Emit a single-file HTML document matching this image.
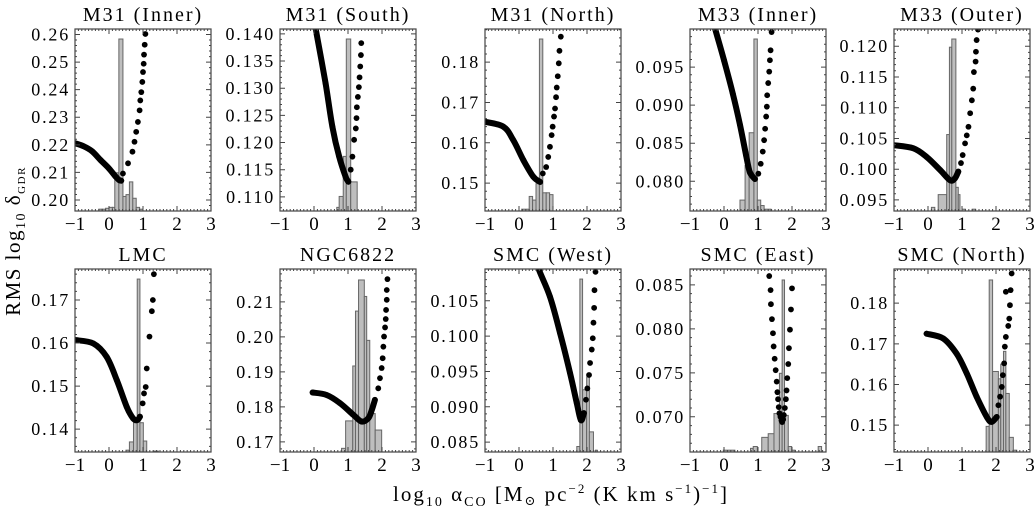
<!DOCTYPE html>
<html><head><meta charset="utf-8">
<style>
html,body{margin:0;padding:0;background:#fff;}
svg{display:block;font-family:"Liberation Serif","DejaVu Serif",serif;}
</style></head>
<body>
<svg id="fig" width="1036" height="506" viewBox="0 0 1036 506" xmlns="http://www.w3.org/2000/svg">
<text transform="translate(20,241) rotate(-90)" text-anchor="middle" font-size="21" letter-spacing="1.5">RMS log<tspan font-size="14" dy="5">10</tspan><tspan dy="-5"> δ</tspan><tspan font-size="11" dy="5">GDR</tspan></text>
<text x="561" y="501" text-anchor="middle" font-size="21" letter-spacing="2">log<tspan font-size="14" dy="5">10</tspan><tspan dy="-5"> α</tspan><tspan font-size="14" dy="5">CO</tspan><tspan dy="-5"> [M</tspan><tspan font-size="13" dy="4">⊙</tspan><tspan dy="-4"> pc</tspan><tspan font-size="13" dy="-8">−2</tspan><tspan dy="8"> (K km s</tspan><tspan font-size="13" dy="-8">−1</tspan><tspan dy="8">)</tspan><tspan font-size="13" dy="-8">−1</tspan><tspan dy="8">]</tspan></text>
</svg>
<script>
// ---- data ----
const panelTitles = ["M31 (Inner)","M31 (South)","M31 (North)","M33 (Inner)","M33 (Outer)","LMC","NGC6822","SMC (West)","SMC (East)","SMC (North)"];
const xTicks = [-1,0,1,2,3];
const yMin = [0.196,0.1074,0.1431,0.0761,0.0932,0.1347,0.1671,0.0836,0.0660,0.1434];
const yMax = [0.262,0.1409,0.1882,0.1000,0.1228,0.1772,0.2194,0.1095,0.0868,0.1884];
const yTickStart = [0.20,0.110,0.15,0.080,0.095,0.14,0.17,0.085,0.070,0.15];
const yTickStep = [0.01,0.005,0.01,0.005,0.005,0.01,0.01,0.005,0.005,0.01];
const yTickCount = [7,7,4,4,6,4,5,5,4,4];
const curveX = [
 [-1,-0.75,-0.5,-0.25,0,0.2,0.3,0.36,0.41,0.56,0.69,0.75,0.80,0.85,0.90,0.92,0.95,0.98,1.00,1.02,1.03,1.05,1.07],
 [-0.05,0.05,0.34,0.54,0.74,0.93,1.01,1.08,1.13,1.18,1.23,1.25,1.26,1.29,1.32,1.34,1.36,1.38,1.39],
 [-1,-0.46,-0.17,0.13,0.42,0.62,0.70,0.80,0.86,0.91,0.96,0.99,1.03,1.06,1.09,1.11,1.14,1.17,1.19,1.23],
 [-0.35,-0.26,0.0,0.26,0.47,0.65,0.76,0.91,1.01,1.08,1.14,1.18,1.21,1.24,1.26,1.27,1.30,1.33,1.35,1.37,1.40],
 [-1,-0.43,-0.04,0.35,0.65,0.79,0.89,0.97,1.02,1.09,1.14,1.19,1.24,1.29,1.33,1.35,1.40,1.41,1.43,1.47],
 [-1,-0.46,-0.07,0.23,0.52,0.71,0.83,0.91,0.99,1.03,1.08,1.11,1.19,1.26,1.29,1.32],
 [-0.04,0.37,0.76,1.16,1.40,1.60,1.70,1.79,1.89,1.94,1.99,2.02,2.04,2.06,2.09,2.11,2.12,2.14,2.14,2.16],
 [0.45,0.57,0.91,1.21,1.50,1.70,1.82,1.91,1.97,2.01,2.06,2.09,2.14,2.17,2.19,2.21,2.22,2.25],
 [1.33,1.37,1.38,1.41,1.44,1.46,1.49,1.52,1.55,1.57,1.59,1.61,1.63,1.66,1.69,1.71,1.74,1.76,1.79,1.82,1.84,1.86,1.89,1.91,1.94,1.97,2.00],
 [-0.04,0.45,0.84,1.14,1.43,1.73,1.87,2.02,2.07,2.12,2.17,2.20,2.24,2.26,2.29,2.36,2.39,2.41,2.29,2.43,2.46]
];
const curveY = [
 [0.2206,0.2195,0.2177,0.2145,0.2114,0.2084,0.2072,0.2070,0.2096,0.2133,0.2175,0.2211,0.2247,0.2283,0.2325,0.2361,0.2391,0.2428,0.2464,0.2494,0.2527,0.2563,0.2602],
 [0.1445,0.1409,0.1309,0.1229,0.1174,0.1137,0.1128,0.1150,0.1174,0.1205,0.1226,0.1245,0.1265,0.1284,0.1302,0.1320,0.1340,0.1361,0.1383],
 [0.1652,0.1640,0.1607,0.1557,0.1516,0.1503,0.1524,0.1540,0.1565,0.1590,0.1619,0.1640,0.1665,0.1685,0.1713,0.1737,0.1765,0.1797,0.1828,0.1863],
 [0.1015,0.1000,0.0959,0.0915,0.0874,0.0834,0.0812,0.0803,0.0810,0.0823,0.0839,0.0854,0.0869,0.0885,0.0898,0.0913,0.0929,0.0944,0.0959,0.0972,0.0996],
 [0.1039,0.1034,0.1020,0.0999,0.0982,0.0985,0.0996,0.1010,0.1023,0.1042,0.1055,0.1069,0.1091,0.1112,0.1131,0.1158,0.1175,0.1191,0.1210,0.1227],
 [0.1607,0.1599,0.1568,0.1514,0.1452,0.1425,0.1421,0.1429,0.1460,0.1483,0.1498,0.1541,0.1615,0.1674,0.1700,0.1760],
 [0.1841,0.1834,0.1811,0.1777,0.1758,0.1768,0.1791,0.1820,0.1853,0.1882,0.1911,0.1939,0.1972,0.2001,0.2027,0.2051,0.2077,0.2106,0.2134,0.2165],
 [0.1120,0.1096,0.1056,0.1004,0.0948,0.0905,0.0881,0.0891,0.0910,0.0926,0.0945,0.0962,0.0981,0.0997,0.1019,0.1040,0.1065,0.1091],
 [0.0860,0.0844,0.0828,0.0811,0.0795,0.0780,0.0766,0.0753,0.0740,0.0728,0.0720,0.0711,0.0704,0.0700,0.0696,0.0694,0.0697,0.0702,0.0710,0.0720,0.0730,0.0744,0.0760,0.0778,0.0799,0.0822,0.0846],
 [0.1725,0.1713,0.1676,0.1627,0.1570,0.1520,0.1508,0.1520,0.1549,0.1570,0.1594,0.1623,0.1652,0.1693,0.1717,0.1744,0.1762,0.1795,0.1828,0.1832,0.1873]
];
const histEdges = [
 [-0.3,-0.2,-0.1,0,0.1,0.17,0.29,0.41,0.5,0.6,0.7,0.8,0.9,1.0],
 [0.67,0.74,0.86,0.95,1.08,1.27],
 [0.08,0.3,0.4,0.5,0.6,0.7,0.8,0.9,1.0],
 [0.47,0.62,0.74,0.88,0.98,1.08,1.18,1.38],
 [0.1,0.2,0.3,0.55,0.63,0.70,0.82,0.89,0.94,1.0,1.1,1.3,1.4],
 [0.5,0.6,0.72,0.83,0.91,1.01,1.11,1.3,1.45],
 [0.81,0.93,1.14,1.22,1.31,1.48,1.55,1.64,1.80,1.99],
 [1.70,1.79,1.87,1.99,2.07,2.19,2.25,2.3],
 [-0.02,0.32,0.78,0.86,0.98,1.11,1.30,1.47,1.63,1.71,1.78,1.89,1.99,2.09,2.77,2.87],
 [1.71,1.80,1.90,2.07,2.14,2.22,2.29,2.39,2.51,2.61]
];
const histHeights = [
 [0.01,0.01,0.015,0.02,0.02,0.21,0.945,0.08,0.09,0.16,0.07,0.02,0.01],
 [0.02,0.08,0.30,0.945,0.16],
 [0.01,0.08,0.06,0.15,0.945,0.10,0.10,0.09],
 [0.06,0.25,0.43,0.945,0.06,0.03,0.01],
 [0.02,0,0.09,0.42,0.90,0.945,0.13,0.09,0,0.01,0,0.01],
 [0.01,0.055,0.16,0.945,0.16,0.06,0,0.005],
 [0.02,0.17,0.47,0.77,0.94,0.85,0.61,0.21,0.12],
 [0.03,0.945,0.34,0.41,0.11,0,0.01],
 [0.01,0,0.02,0.03,0,0.08,0.10,0.21,0.43,0.94,0.20,0.03,0.01,0,0.03],
 [0.14,0.94,0.44,0.40,0.48,0.55,0.32,0.08,0.01]
];
// ---- layout (style) ----
const denseCount = [8,7,6,8,7,8,8,8,0,8];
const panelLeft = [75,280,485,690,894];
const panelW = 136;
const rowTop = [29,269], rowBot = [211,452];
const NS = "http://www.w3.org/2000/svg";
const svg = document.getElementById('fig');
function mk(tag, attrs, parent){const e=document.createElementNS(NS,tag);for(const k in attrs)e.setAttribute(k,attrs[k]);(parent||svg).appendChild(e);return e;}
function smoothPath(pts){
  let d='M'+pts[0][0].toFixed(1)+','+pts[0][1].toFixed(1);
  for(let i=0;i<pts.length-1;i++){
    const p0=pts[Math.max(0,i-1)],p1=pts[i],p2=pts[i+1],p3=pts[Math.min(pts.length-1,i+2)];
    const c1=[p1[0]+(p2[0]-p0[0])/6,p1[1]+(p2[1]-p0[1])/6];
    const c2=[p2[0]-(p3[0]-p1[0])/6,p2[1]-(p3[1]-p1[1])/6];
    d+='C'+c1[0].toFixed(1)+','+c1[1].toFixed(1)+' '+c2[0].toFixed(1)+','+c2[1].toFixed(1)+' '+p2[0].toFixed(1)+','+p2[1].toFixed(1);
  }
  return d;
}

for(let p=0;p<10;p++){
  const L=panelLeft[p%5], R=L+panelW, T=rowTop[Math.floor(p/5)], B=rowBot[Math.floor(p/5)];
  const sx=v=>L+(v+1)/4*(R-L);
  const sy=v=>B-(v-yMin[p])/(yMax[p]-yMin[p])*(B-T);
  const g=mk('g',{});
  
  
  const cid='clip'+p;
  const cp=mk('clipPath',{id:cid},g); mk('rect',{x:L,y:T,width:R-L,height:B-T},cp);
  const hg=mk('g',{'clip-path':'url(#'+cid+')'},g);
  
  
  const he=histEdges[p], hh=histHeights[p];
  for(let i=0;i<hh.length;i++){
    if(hh[i]<=0) continue;
    const x0=sx(he[i]), x1=sx(he[i+1]), h=hh[i]*(B-T);
    const r=mk('rect',{x:x0,y:B-h,width:x1-x0,height:h,fill:'#bebebe',stroke:'#666',"stroke-width":1},hg);
    
    
  }
  const cg=mk('g',{'clip-path':'url(#'+cid+')'},g);
  
  
  const xs=curveX[p], ys=curveY[p], dn=denseCount[p];
  if(dn>1){
    const pts=[];
    for(let i=0;i<dn;i++) pts.push([sx(xs[i]),sy(ys[i])]);
    const pl=mk('path',{d:smoothPath(pts),fill:'none',stroke:'#000','stroke-width':6,'stroke-linecap':'round','stroke-linejoin':'round'},cg);
    
    
  }
  for(let i=0;i<xs.length;i++){
    const c=mk('circle',{cx:sx(xs[i]),cy:sy(ys[i]),r:2.9,fill:'#000'},cg);
    
    
  }
  const fr=mk('rect',{x:L,y:T,width:R-L,height:B-T,fill:'none',stroke:'#444','stroke-width':1.2},g);
  
  
  let td='';
  for(let v=-1;v<=3.001;v+=0.1){const x=sx(v);const maj=Math.abs(v-Math.round(v))<1e-6;const len=maj?5:2;td+='M'+x+','+B+'v-'+len+'M'+x+','+T+'v'+len;}
  const ys0=yTickStart[p], st=yTickStep[p];
  for(let k=-1;k<=yTickCount[p];k++){
    for(let m=0;m<5;m++){const v=ys0+k*st+m*st/5;if(v<yMin[p]||v>yMax[p])continue;const y=sy(v);const len=m===0?5:2;td+='M'+L+','+y+'h'+len+'M'+R+','+y+'h-'+len;}
  }
  mk('path',{d:td,stroke:'#444','stroke-width':1,fill:'none'},g);
  xTicks.forEach(v=>{
    const t=mk('text',{x:sx(v),y:B+19,'text-anchor':'middle','font-size':19},g);
    t.textContent=(v<0?'−':'')+Math.abs(v);
    
    
  });
  for(let k=0;k<yTickCount[p];k++){
    const v=ys0+k*st;
    const t=mk('text',{x:L-5,y:sy(v)+6,'text-anchor':'end','font-size':18,'letter-spacing':1.8},g);
    t.textContent=v.toFixed(st<0.01?3:2);
    
    
  }
  const tt=mk('text',{x:(L+R)/2,y:T-8,'text-anchor':'middle','font-size':20,'letter-spacing':2},g);
  tt.textContent=panelTitles[p];
  
  
}
</script>
</body></html>
